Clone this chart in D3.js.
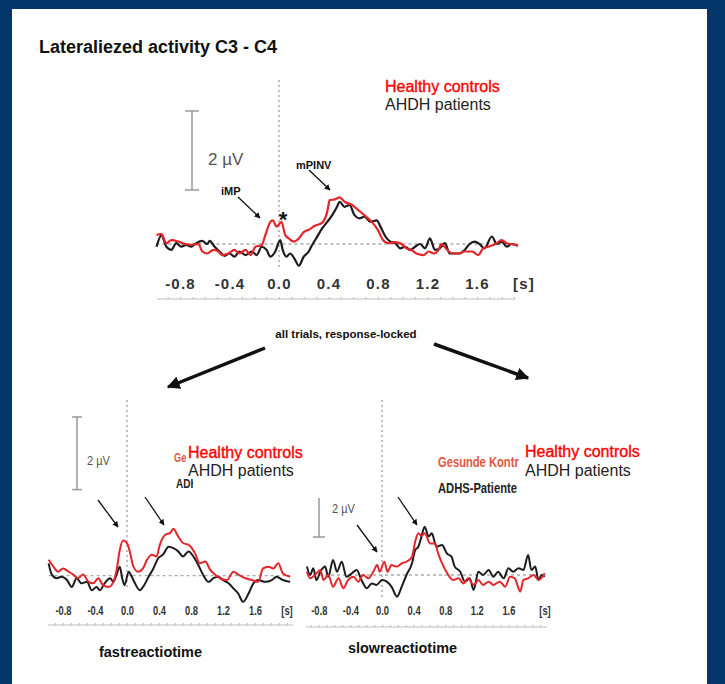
<!DOCTYPE html>
<html>
<head>
<meta charset="utf-8">
<script src="https://cdn.jsdelivr.net/npm/d3@7/dist/d3.min.js"></script>
<style>
body{margin:0;background:#03366a;}
svg{display:block;font-family:"Liberation Sans",Arial,sans-serif;}
</style>
</head>
<body>
<svg id="chart"></svg>
<script>
// Data: [time in s, amplitude in µV]
const tickValues=[-0.8,-0.4,0,0.4,0.8,1.2,1.6];

const topRed=[[-0.99,0.23],[-0.95,0.25],[-0.91,0.02],[-0.87,0.1],[-0.81,0.06],[-0.76,0],[-0.71,-0.02],[-0.65,0],[-0.62,-0.19],[-0.58,-0.24],[-0.53,-0.15],[-0.49,-0.19],[-0.46,-0.28],[-0.41,-0.24],[-0.36,-0.15],[-0.32,-0.24],[-0.27,-0.15],[-0.23,-0.28],[-0.19,-0.07],[-0.14,-0.03],[-0.11,0.23],[-0.07,0.56],[-0.05,0.6],[-0.02,0.44],[0.02,0.56],[0.05,0.23],[0.08,0.14],[0.12,0.06],[0.16,0.14],[0.2,0.3],[0.24,0.36],[0.29,0.46],[0.35,0.54],[0.39,0.82],[0.41,1.11],[0.45,1.13],[0.49,1.18],[0.53,1.07],[0.59,0.99],[0.64,0.86],[0.69,0.73],[0.75,0.56],[0.8,0.35],[0.84,0.1],[0.88,0.02],[0.94,0.05],[0.99,0],[1.03,-0.11],[1.07,-0.15],[1.11,-0.24],[1.17,-0.28],[1.21,-0.19],[1.25,-0.24],[1.29,-0.15],[1.31,0],[1.36,-0.15],[1.4,-0.24],[1.45,-0.24],[1.5,-0.19],[1.56,-0.19],[1.61,-0.28],[1.65,-0.11],[1.69,-0.07],[1.75,0],[1.8,0.1],[1.84,0.02],[1.88,0],[1.93,-0.04]];
const topBlack=[[-0.99,-0.07],[-0.95,0.22],[-0.91,-0.07],[-0.87,-0.15],[-0.83,0.02],[-0.79,-0.07],[-0.75,-0.02],[-0.71,-0.07],[-0.67,0.02],[-0.62,0.08],[-0.58,0],[-0.56,0.08],[-0.52,-0.07],[-0.48,-0.19],[-0.44,-0.3],[-0.4,-0.24],[-0.36,-0.32],[-0.32,-0.19],[-0.27,-0.28],[-0.22,-0.19],[-0.18,-0.28],[-0.14,-0.07],[-0.1,-0.15],[-0.07,-0.32],[-0.03,-0.19],[0.01,0.1],[0.03,-0.15],[0.06,-0.32],[0.09,-0.24],[0.13,-0.4],[0.16,-0.55],[0.2,-0.32],[0.24,-0.19],[0.26,-0.07],[0.3,0.14],[0.35,0.4],[0.39,0.56],[0.43,0.73],[0.47,0.95],[0.49,1.07],[0.53,0.94],[0.57,0.99],[0.61,0.73],[0.65,0.65],[0.69,0.69],[0.74,0.56],[0.79,0.6],[0.82,0.44],[0.86,0.19],[0.9,0.06],[0.94,0.02],[0.98,-0.11],[1.02,-0.07],[1.06,-0.15],[1.1,-0.07],[1.14,0],[1.18,-0.11],[1.22,0.14],[1.26,-0.15],[1.3,-0.11],[1.34,0.02],[1.38,-0.24],[1.42,-0.24],[1.46,-0.24],[1.5,-0.15],[1.54,0],[1.58,0.06],[1.62,0],[1.66,-0.11],[1.72,0.19],[1.76,0],[1.8,0.06],[1.84,-0.07],[1.88,0],[1.93,-0.04]];

const fastRed=[[-0.98,0.44],[-0.92,0.25],[-0.86,0.11],[-0.8,0.2],[-0.73,0.11],[-0.67,0.03],[-0.61,-0.07],[-0.55,0.03],[-0.48,-0.17],[-0.42,-0.21],[-0.36,-0.07],[-0.3,-0.26],[-0.23,-0.31],[-0.17,-0.17],[-0.13,0.16],[-0.09,0.71],[-0.05,0.97],[0,0.9],[0.04,0.62],[0.08,0.25],[0.14,0.11],[0.2,0.2],[0.25,0.44],[0.31,0.58],[0.37,0.53],[0.41,0.85],[0.48,1.13],[0.54,1.18],[0.58,1.29],[0.64,1.08],[0.7,0.9],[0.77,0.85],[0.85,0.62],[0.91,0.34],[0.98,0.39],[1.04,0.16],[1.1,0.03],[1.16,-0.07],[1.25,-0.12],[1.33,0.11],[1.39,0.03],[1.48,-0.07],[1.56,-0.12],[1.64,-0.17],[1.7,0.2],[1.77,0.25],[1.83,0.2],[1.89,0.34],[1.95,0.06],[2.04,-0.03]];
const fastBlack=[[-0.98,0.34],[-0.94,0.03],[-0.88,-0.07],[-0.82,-0.03],[-0.75,-0.12],[-0.69,-0.31],[-0.63,-0.07],[-0.57,-0.21],[-0.5,-0.17],[-0.44,-0.4],[-0.38,-0.31],[-0.34,-0.4],[-0.28,-0.21],[-0.21,-0.07],[-0.17,-0.17],[-0.13,0.03],[-0.09,0.25],[-0.06,-0.07],[-0.03,-0.26],[0.02,0.11],[0.06,-0.03],[0.1,-0.21],[0.16,-0.4],[0.2,-0.31],[0.27,-0.03],[0.33,0.2],[0.39,0.48],[0.45,0.58],[0.52,0.8],[0.58,0.76],[0.64,0.67],[0.7,0.53],[0.77,0.67],[0.83,0.53],[0.89,0.3],[0.95,0.03],[1.02,-0.17],[1.08,-0.07],[1.14,-0.03],[1.2,-0.12],[1.27,-0.21],[1.33,-0.35],[1.39,-0.49],[1.45,-0.72],[1.52,-0.49],[1.58,-0.21],[1.64,-0.12],[1.73,-0.17],[1.81,-0.12],[1.87,-0.03],[1.95,-0.12],[2.04,-0.17]];

const slowRed=[[-0.95,0.17],[-0.91,-0.17],[-0.85,0],[-0.78,0.26],[-0.74,-0.26],[-0.68,0],[-0.62,-0.6],[-0.55,-0.17],[-0.49,-0.68],[-0.43,-0.26],[-0.36,-0.09],[-0.3,-0.34],[-0.24,0],[-0.17,-0.17],[-0.11,0.17],[-0.06,0.51],[-0.03,0.17],[0.03,0.68],[0.07,0.17],[0.12,0.51],[0.19,0.43],[0.25,0.6],[0.31,0.68],[0.38,0.94],[0.42,1.71],[0.46,2.14],[0.5,2.0],[0.54,2.14],[0.61,1.62],[0.67,1.62],[0.71,1.11],[0.78,0.43],[0.84,0],[0.9,-0.26],[0.97,-0.17],[1.03,-0.43],[1.09,-0.17],[1.16,-0.51],[1.22,-0.26],[1.28,-0.51],[1.35,-0.34],[1.41,-0.51],[1.49,-0.34],[1.56,-0.6],[1.62,-0.09],[1.68,-0.17],[1.75,-0.85],[1.79,-0.26],[1.85,-0.17],[1.92,0],[1.98,-0.26],[2.06,0.09]];
const slowBlack=[[-0.95,0.43],[-0.91,0],[-0.87,0.34],[-0.83,-0.26],[-0.78,0.17],[-0.72,0.43],[-0.68,-0.09],[-0.62,0.77],[-0.57,0.17],[-0.51,0.68],[-0.45,-0.09],[-0.38,0.09],[-0.32,0.26],[-0.26,-0.26],[-0.19,-0.68],[-0.13,-0.43],[-0.07,-0.51],[0,-0.26],[0.06,-0.34],[0.12,-0.6],[0.19,-1.11],[0.25,-0.6],[0.31,0],[0.38,0.6],[0.42,1.28],[0.46,1.45],[0.5,1.97],[0.54,2.48],[0.59,1.97],[0.63,2.14],[0.69,1.45],[0.76,1.54],[0.82,1.11],[0.88,0.94],[0.92,0.43],[0.99,0.17],[1.05,-0.34],[1.11,-0.17],[1.16,-0.77],[1.22,0.17],[1.28,0],[1.35,0.26],[1.41,-0.09],[1.47,0.17],[1.54,-0.17],[1.6,0.34],[1.66,0.17],[1.73,0.34],[1.79,0.26],[1.85,1.03],[1.89,0.26],[1.94,0.43],[1.98,-0.26],[2.02,0],[2.06,-0.09]];

const W=725,H=684;
const RED='#e4262b',BLACK='#1c1c1c';
const svg=d3.select('#chart').attr('width',W).attr('height',H);

// frame
svg.append('rect').attr('width',W).attr('height',H).attr('fill','#03366a');
svg.append('rect').attr('x',12).attr('y',9).attr('width',695).attr('height',H-9).attr('fill','#fff');

// arrow markers
const defs=svg.append('defs');
function marker(id,size){
  defs.append('marker').attr('id',id).attr('viewBox','0 0 10 10')
    .attr('refX',9).attr('refY',5).attr('markerUnits','userSpaceOnUse')
    .attr('markerWidth',size).attr('markerHeight',size).attr('orient','auto')
    .append('path').attr('d','M0,0L10,5L0,10z').attr('fill','#111');
}
marker('headS',6);
marker('headL',13);
function arrow(x1,y1,x2,y2,w,m){
  svg.append('line').attr('x1',x1).attr('y1',y1).attr('x2',x2).attr('y2',y2)
    .attr('stroke','#111').attr('stroke-width',w).attr('marker-end',`url(#${m})`);
}
function squeezed(txt,x,y,size,sx,fill,weight,anchor){
  return svg.append('text').attr('transform',`translate(${x},${y}) scale(${sx},1)`)
    .attr('font-size',size).attr('font-weight',weight||'bold').attr('fill',fill||'#222')
    .attr('text-anchor',anchor||'start').text(txt);
}
function legend(x,y1,y2){
  svg.append('text').attr('x',x).attr('y',y1).attr('font-size',16).attr('fill','#ff0000')
    .attr('stroke','#ff0000').attr('stroke-width',0.35).text('Healthy controls');
  svg.append('text').attr('x',x).attr('y',y2).attr('font-size',16).attr('fill','#222').text('AHDH patients');
}

// title
svg.append('text').attr('x',39).attr('y',53).attr('font-size',18).attr('font-weight','bold')
  .attr('fill','#111').text('Lateraliezed activity C3 - C4');

function panel(o){
  const x=d3.scaleLinear().domain([0,1]).range([o.zeroX,o.zeroX+o.pxs]);
  const y=d3.scaleLinear().domain([0,1]).range([o.baseY,o.baseY-o.pxv]);
  const g=svg.append('g');
  const t0=Math.min(o.red[0][0],o.black[0][0]);
  const t1=Math.max(o.red[o.red.length-1][0],o.black[o.black.length-1][0]);

  // zero lines
  g.append('line').attr('x1',x(t0)).attr('x2',x(t1)).attr('y1',y(0)).attr('y2',y(0))
    .attr('stroke','#aaa').attr('stroke-width',1.3).attr('stroke-dasharray','3,3');
  g.append('line').attr('x1',x(0)).attr('x2',x(0)).attr('y1',o.vTop).attr('y2',o.vBot)
    .attr('stroke','#aaa').attr('stroke-width',1.5).attr('stroke-dasharray','2,3');

  // scale bar
  const sb=g.append('g').attr('stroke','#999').attr('stroke-width',1.5);
  const barBot=o.barTop+y(0)-y(2);
  sb.append('line').attr('x1',o.barX).attr('x2',o.barX).attr('y1',o.barTop).attr('y2',barBot);
  if(o.topCap) sb.append('line').attr('x1',o.barX-o.cap).attr('x2',o.barX+o.cap).attr('y1',o.barTop).attr('y2',o.barTop);
  sb.append('line').attr('x1',o.barX-o.cap).attr('x2',o.barX+o.cap).attr('y1',barBot).attr('y2',barBot);
  squeezed('2 µV',o.barLX,o.barLY,o.barFont,o.barSx,'#555','normal');

  // waveforms
  const line=d3.line().x(d=>x(d[0])).y(d=>y(d[1])).curve(d3.curveMonotoneX);
  g.append('path').datum(o.black).attr('d',line).attr('fill','none').attr('stroke',BLACK).attr('stroke-width',o.lw).attr('stroke-linejoin','round');
  g.append('path').datum(o.red).attr('d',line).attr('fill','none').attr('stroke',RED).attr('stroke-width',o.lw).attr('stroke-linejoin','round');

  // tick labels
  const lab=g.append('g').attr('transform',`translate(0,${o.labelY})`)
    .call(d3.axisBottom(x).tickValues(tickValues).tickSize(0).tickPadding(0).tickFormat(d=>d.toFixed(1)));
  lab.select('.domain').remove();
  lab.selectAll('text').attr('y',0).attr('dy',null).attr('fill','#333')
    .attr('font-family','"Liberation Sans",Arial,sans-serif')
    .attr('font-size',o.tickFont).attr('font-weight','bold')
    .attr('letter-spacing',o.ls||0).attr('transform',`scale(${o.tickSx},1)`);
  squeezed('[s]',o.sX,o.labelY,o.tickFont,o.tickSx,'#333','bold','middle').attr('letter-spacing',o.ls||0);

  // minor tick axis
  const minor=d3.range(-1,2.05,0.1).filter(t=>x(t)>=o.axisX0&&x(t)<=o.axisX1);
  const ax=g.append('g').attr('transform',`translate(0,${o.axisY})`)
    .call(d3.axisBottom(x).tickValues(minor).tickSizeInner(-2).tickSizeOuter(0).tickFormat(''));
  ax.select('.domain').remove();
  ax.selectAll('line').attr('stroke','#bbb');
  g.append('line').attr('x1',o.axisX0).attr('x2',o.axisX1).attr('y1',o.axisY).attr('y2',o.axisY)
    .attr('stroke','#bbb').attr('stroke-width',1);
}

// top chart
panel({red:topRed,black:topBlack,zeroX:279,pxs:123.75,baseY:244,pxv:39.5,lw:2.2,
  vTop:80,vBot:268,barX:192,barTop:111,cap:7,topCap:true,barLX:208,barLY:165,barFont:17,barSx:1,
  labelY:289,tickFont:15,tickSx:1,ls:1.2,sX:524,axisY:299,axisX0:157,axisX1:515});
// fast reaction time
panel({red:fastRed,black:fastBlack,zeroX:127,pxs:80,baseY:575.7,pxv:36.3,lw:2,
  vTop:400,vBot:590,barX:77,barTop:417,cap:5,topCap:true,barLX:87,barLY:465,barFont:13,barSx:0.85,
  labelY:615,tickFont:12,tickSx:0.78,sX:287,axisY:625,axisX0:48,axisX1:293});
// slow reaction time
panel({red:slowRed,black:slowBlack,zeroX:382,pxs:79,baseY:575,pxv:19.5,lw:2,
  vTop:400,vBot:598,barX:319,barTop:498,cap:6,topCap:false,barLX:332,barLY:513,barFont:13,barSx:0.85,
  labelY:615,tickFont:12,tickSx:0.78,sX:545,axisY:627,axisX0:306,axisX1:547});

// top legend and annotations
legend(385,92,110);
svg.append('text').attr('x',221).attr('y',195).attr('font-size',11).attr('font-weight','bold').attr('fill','#111').text('iMP');
svg.append('text').attr('x',296).attr('y',169).attr('font-size',11).attr('font-weight','bold').attr('fill','#111').text('mPINV');
svg.append('text').attr('x',283).attr('y',227).attr('font-size',22).attr('font-weight','bold').attr('text-anchor','middle').attr('fill','#111').text('*');
arrow(238,197,260,218,1.3,'headS');
arrow(309,170,330,190,1.3,'headS');

// middle
svg.append('text').attr('x',346).attr('y',338).attr('font-size',11.5).attr('font-weight','bold').attr('text-anchor','middle').attr('fill','#111').text('all trials, response-locked');
arrow(265,348,168,387,3.5,'headL');
arrow(434,344,528,378,3.5,'headL');

// bottom-left legend: fragments of the original German labels stay visible
squeezed('Ge',174,462,12.5,0.74,'#e0583e');
squeezed('ADH',176,488,12.5,0.8,'#222');
svg.append('rect').attr('x',193).attr('y',478).attr('width',10).attr('height',14).attr('fill','#fff');
legend(188,458,476);
arrow(98,500,118,527,1.3,'headS');
arrow(145,497,164,525,1.3,'headS');

// bottom-right legend
squeezed('Gesunde Kontr',438,467,14,0.8,'#e0583e');
squeezed('ADHS-Patiente',438,493,14,0.8,'#222');
legend(525,457,476);
arrow(357,525,377,552,1.3,'headS');
arrow(398,497,417,525,1.3,'headS');

// bottom captions
svg.append('text').attr('x',99).attr('y',657).attr('font-size',14).attr('font-weight','bold').attr('fill','#111')
  .attr('textLength',103).attr('lengthAdjust','spacingAndGlyphs').text('fastreactiotime');
svg.append('text').attr('x',348).attr('y',653).attr('font-size',14).attr('font-weight','bold').attr('fill','#111')
  .attr('textLength',109).attr('lengthAdjust','spacingAndGlyphs').text('slowreactiotime');
</script>
</body>
</html>
